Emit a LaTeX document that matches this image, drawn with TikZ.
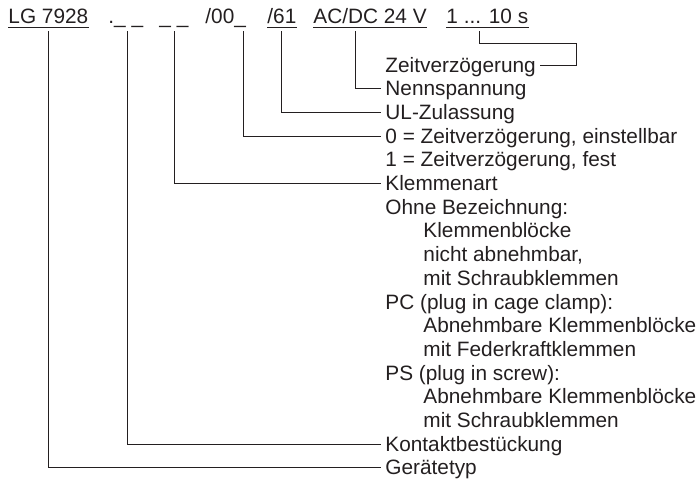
\documentclass[tikz,border=0pt]{standalone}
\usepackage{fontspec}
\setmainfont{Liberation Sans}
\usetikzlibrary{positioning,calc}
\definecolor{ink}{RGB}{35,31,32}

\begin{document}
\begin{tikzpicture}[
    x=1pt, y=-1pt,
    line width=0.9pt,
    every node/.style={anchor=base west, inner sep=0pt, text=ink,
      font=\fontsize{20.8}{20.8}\selectfont},
    desc/.style={inner xsep=4pt, text height=14pt, text depth=0pt},
    link/.style={draw=ink},
    uline/.style={draw=ink}
]
  \useasboundingbox (0,0) rectangle (696,488);

  % code fields
  \node (lg) at (8,23)   {LG 7928};
  \node (ka) at (108,23) {.\_ \_};
  \node (kl) at (159,23) {\_ \_};
  \node (zv) at (205,23) {/00\_};
  \node (ul) at (267,23) {/61};
  \node (un) at (313,23) {AC/DC 24 V};
  \node (td) at (446,23) {1 ... 10 s};

  \foreach \f in {lg, ul, un, td}
    \draw[uline] ([yshift=-4pt]\f.base west) -- ([yshift=-4pt]\f.base east);

  % descriptions
  \node[desc] (tzeit)   at (381,72)    {Zeitverzögerung};
  \node[desc] (nenn)    at (381,95.7)  {Nennspannung};
  \node[desc] (ulz)     at (381,119.4) {UL-Zulassung};
  \node[desc] (null)    at (381,143.1) {0 = Zeitverzögerung, einstellbar};
  \node[desc] (eins)    at (381,166.8) {1 = Zeitverzögerung, fest};
  \node[desc] (klemm)   at (381,190.5) {Klemmenart};
  \node[desc] (ohne)    at (381,214.2) {Ohne Bezeichnung:};
  \node[desc] (ohnea)   at (419,237.9) {Klemmenblöcke};
  \node[desc] (ohneb)   at (419,261.6) {nicht abnehmbar,};
  \node[desc] (ohnec)   at (419,285.3) {mit Schraubklemmen};
  \node[desc] (pc)      at (381,309)   {PC (plug in cage clamp):};
  \node[desc] (pca)     at (419,332.7) {Abnehmbare Klemmenblöcke};
  \node[desc] (pcb)     at (419,356.4) {mit Federkraftklemmen};
  \node[desc] (ps)      at (381,380.1) {PS (plug in screw):};
  \node[desc] (psa)     at (419,403.8) {Abnehmbare Klemmenblöcke};
  \node[desc] (psb)     at (419,427.5) {mit Schraubklemmen};
  \node[desc] (kontakt) at (381,451.2) {Kontaktbestückung};
  \node[desc] (geraet)  at (381,474.9) {Gerätetyp};

  % links
  \draw[link] ($(lg.base west)+(40,8)$) |- (geraet.west);
  \draw[link] ($(ka.base west)+(19,8)$) |- (kontakt.west);
  \draw[link] ($(kl.base west)+(15,8)$) |- (klemm.west);
  \draw[link] ($(zv.base west)+(38,8)$) |- (null.west);
  \draw[link] ($(ul.base west)+(14,8)$) |- (ulz.west);
  \draw[link] ($(un.base west)+(42,8)$) |- (nenn.west);
  \draw[link] ($(td.base west)+(33,8)$) -- ++(0,12)
    -| ([xshift=36pt]tzeit.east) -- (tzeit.east);
\end{tikzpicture}
\end{document}
